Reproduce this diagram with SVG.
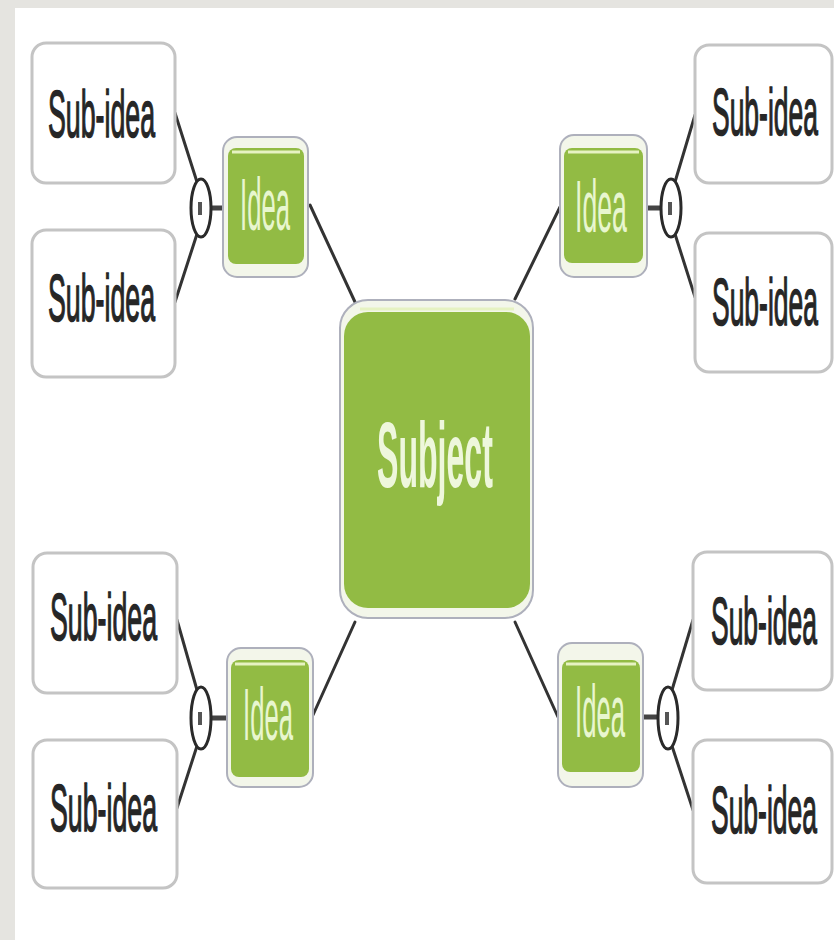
<svg xmlns="http://www.w3.org/2000/svg" width="834" height="940" viewBox="0 0 834 940">
<style>
.sub rect{fill:#ffffff;stroke:#c4c4c4;stroke-width:3}
.sub text{font-family:"Liberation Sans",Arial,sans-serif;font-size:67px;fill:#262626;stroke:#262626;stroke-width:1.5}
.idea .o,.subj .o{fill:#f3f6ea;stroke:#aeb0bc;stroke-width:2}
.idea .g,.subj .g{fill:#92bb44}
.idea .h,.subj .h{fill:none;stroke:#e6f2c2;stroke-width:3}
.idea text{font-family:"Liberation Sans",Arial,sans-serif;font-size:74px;fill:#e8f6cf}
.subj text{font-family:"Liberation Sans",Arial,sans-serif;font-size:93px;font-weight:bold;fill:#eef7dc}
.conn line{stroke:#333;stroke-width:3;stroke-linecap:round}
.conn .stub{stroke-width:5;stroke:#444}
.tog ellipse{fill:#fff;stroke:#2a2a2a;stroke-width:3}
.tog line{stroke:#555;stroke-width:4}
</style>
<rect x="0" y="0" width="834" height="940" fill="#e5e4e0"/>
<rect x="15" y="8" width="819" height="932" fill="#ffffff"/>

<g id="connectors" class="conn">
  <line x1="310" y1="205" x2="355" y2="302"/>
  <line x1="560" y1="207" x2="515" y2="299"/>
  <line x1="313" y1="715" x2="355" y2="622"/>
  <line x1="558" y1="717" x2="515" y2="622"/>
  <line x1="175" y1="113" x2="197" y2="182"/>
  <line x1="197" y1="234" x2="175" y2="302"/>
  <line x1="695" y1="115" x2="675" y2="182"/>
  <line x1="675" y1="234" x2="695" y2="297"/>
  <line x1="177" y1="620" x2="197" y2="690"/>
  <line x1="197" y1="746" x2="177" y2="808"/>
  <line x1="693" y1="620" x2="672" y2="690"/>
  <line x1="672" y1="746" x2="693" y2="810"/>
  <line class="stub" x1="211" y1="208" x2="224" y2="208"/>
  <line class="stub" x1="647" y1="208" x2="661" y2="208"/>
  <line class="stub" x1="211" y1="718" x2="228" y2="718"/>
  <line class="stub" x1="643" y1="717" x2="658" y2="717"/>
</g>

<g id="toggle-tl" class="tog"><ellipse cx="201" cy="208" rx="10" ry="29"/><line x1="200" y1="202" x2="200" y2="215"/></g>
<g id="toggle-tr" class="tog"><ellipse cx="671" cy="208" rx="10" ry="29"/><line x1="670" y1="202" x2="670" y2="215"/></g>
<g id="toggle-bl" class="tog"><ellipse cx="201" cy="718" rx="10" ry="31"/><line x1="200" y1="712" x2="200" y2="725"/></g>
<g id="toggle-br" class="tog"><ellipse cx="668" cy="718" rx="10" ry="31"/><line x1="667" y1="712" x2="667" y2="725"/></g>

<g id="sub-tl1" class="sub"><rect x="32" y="43" width="143" height="140" rx="14"/><text transform="translate(48,137) scale(0.399,1)">Sub-idea</text></g>
<g id="sub-tl2" class="sub"><rect x="32" y="230" width="143" height="147" rx="14"/><text transform="translate(48,321) scale(0.399,1)">Sub-idea</text></g>
<g id="sub-bl1" class="sub"><rect x="33" y="553" width="144" height="140" rx="14"/><text transform="translate(50,640) scale(0.399,1)">Sub-idea</text></g>
<g id="sub-bl2" class="sub"><rect x="33" y="740" width="144" height="148" rx="14"/><text transform="translate(50,831) scale(0.399,1)">Sub-idea</text></g>
<g id="sub-tr1" class="sub"><rect x="695" y="45" width="137" height="138" rx="14"/><text transform="translate(712,135) scale(0.395,1)">Sub-idea</text></g>
<g id="sub-tr2" class="sub"><rect x="695" y="233" width="137" height="139" rx="14"/><text transform="translate(712,325) scale(0.395,1)">Sub-idea</text></g>
<g id="sub-br1" class="sub"><rect x="693" y="552" width="139" height="138" rx="14"/><text transform="translate(711,644) scale(0.395,1)">Sub-idea</text></g>
<g id="sub-br2" class="sub"><rect x="693" y="740" width="139" height="143" rx="14"/><text transform="translate(711,833) scale(0.395,1)">Sub-idea</text></g>

<g id="idea-tl" class="idea"><rect class="o" x="223" y="137" width="85" height="140" rx="14"/><rect class="g" x="228" y="148" width="76" height="116" rx="8"/><path class="h" d="M232 152 H300"/><text transform="translate(240,230) scale(0.347,1)">Idea</text></g>
<g id="idea-tr" class="idea"><rect class="o" x="560" y="135" width="87" height="142" rx="14"/><rect class="g" x="564" y="148" width="79" height="115" rx="8"/><path class="h" d="M568 152 H639"/><text transform="translate(575,232) scale(0.36,1)">Idea</text></g>
<g id="idea-bl" class="idea"><rect class="o" x="227" y="648" width="86" height="139" rx="14"/><rect class="g" x="231" y="660" width="78" height="117" rx="8"/><path class="h" d="M235 664 H305"/><text transform="translate(243,740) scale(0.347,1)">Idea</text></g>
<g id="idea-br" class="idea"><rect class="o" x="558" y="643" width="85" height="144" rx="14"/><rect class="g" x="562" y="660" width="78" height="112" rx="8"/><path class="h" d="M566 664 H636"/><text transform="translate(575,737) scale(0.347,1)">Idea</text></g>

<g id="subject" class="subj"><rect class="o" x="340" y="300" width="193" height="318" rx="28"/><rect class="g" x="344" y="312" width="186" height="296" rx="24"/><path class="h" d="M360 309 H514"/><text transform="translate(377,487) scale(0.345,1)">Subject</text></g>
</svg>
